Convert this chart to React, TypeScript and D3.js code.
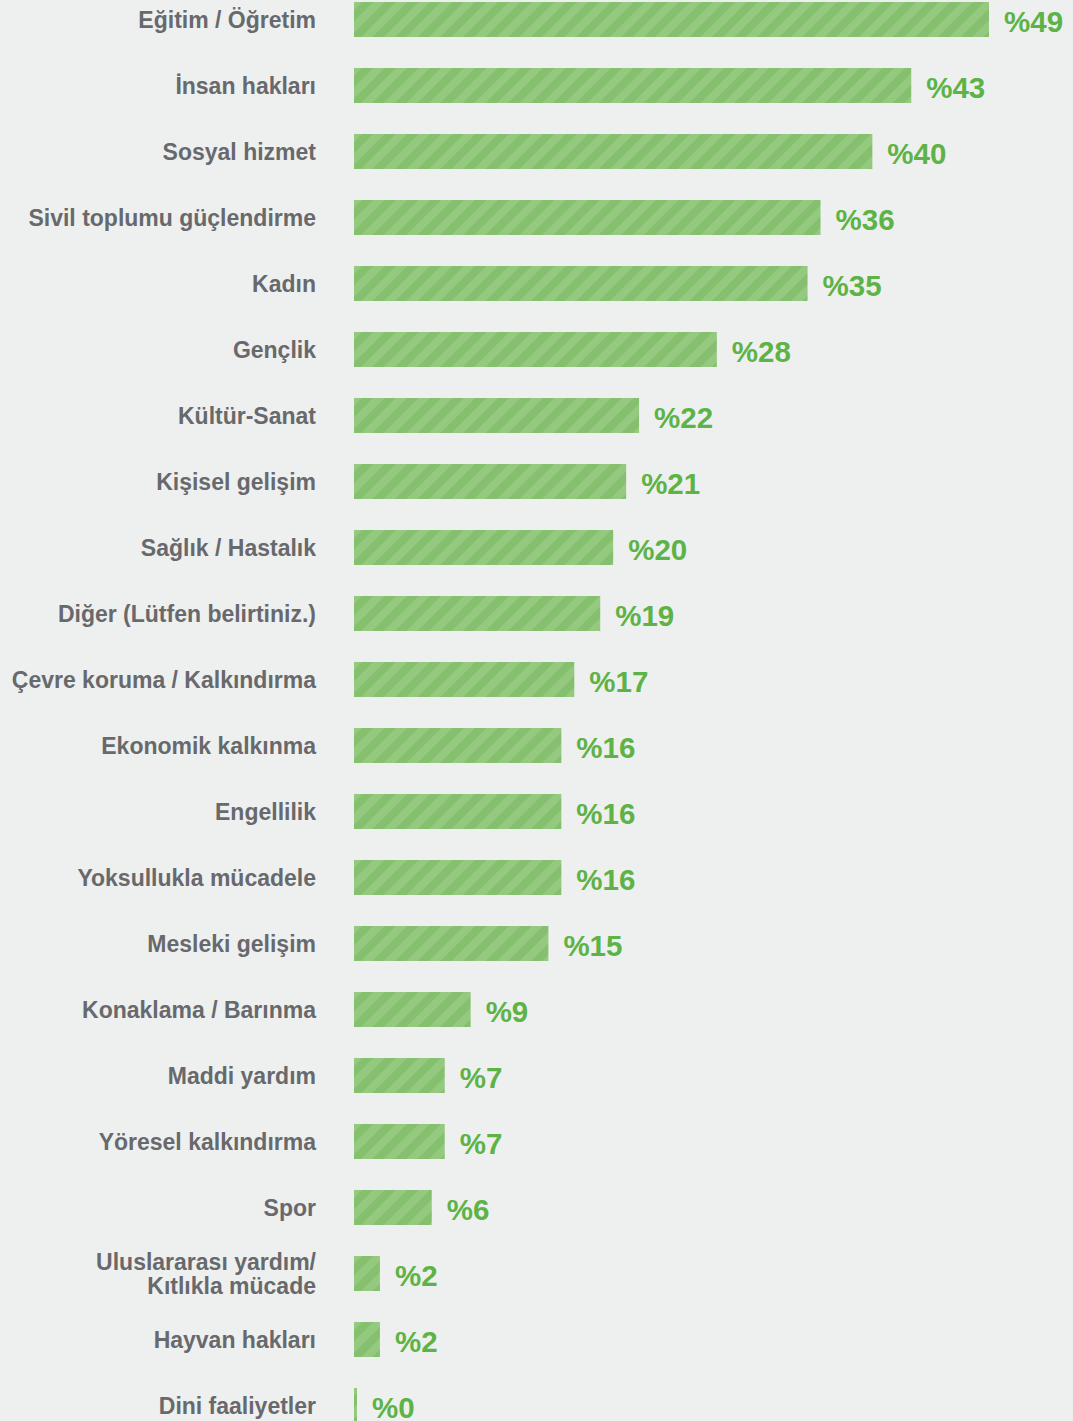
import React, { useRef, useEffect } from 'react';
import * as d3 from 'd3';

const categories = [
  'Eğitim / Öğretim',
  'İnsan hakları',
  'Sosyal hizmet',
  'Sivil toplumu güçlendirme',
  'Kadın',
  'Gençlik',
  'Kültür-Sanat',
  'Kişisel gelişim',
  'Sağlık / Hastalık',
  'Diğer (Lütfen belirtiniz.)',
  'Çevre koruma / Kalkındırma',
  'Ekonomik kalkınma',
  'Engellilik',
  'Yoksullukla mücadele',
  'Mesleki gelişim',
  'Konaklama / Barınma',
  'Maddi yardım',
  'Yöresel kalkındırma',
  'Spor',
  'Uluslararası yardım/\nKıtlıkla mücade',
  'Hayvan hakları',
  'Dini faaliyetler',
];

const values = [49, 43, 40, 36, 35, 28, 22, 21, 20, 19, 17, 16, 16, 16, 15, 9, 7, 7, 6, 2, 2, 0];

const W = 1073;
const H = 1421;

const App = () => {
  const ref = useRef<SVGSVGElement>(null);

  useEffect(() => {
    const svg = d3.select(ref.current);
    svg.selectAll('*').remove();

    svg.append('rect').attr('width', W).attr('height', H).attr('fill', '#eef0ef');

    const defs = svg.append('defs');
    const pat = defs
      .append('pattern')
      .attr('id', 'stripes')
      .attr('patternUnits', 'userSpaceOnUse')
      .attr('width', 16)
      .attr('height', 16)
      .attr('patternTransform', 'rotate(45)');
    pat.append('rect').attr('width', 16).attr('height', 16).attr('fill', '#94c97f');
    pat.append('rect').attr('width', 8).attr('height', 16).attr('fill', '#84c06d');

    const x = d3.scaleLinear().domain([0, 49]).range([354, 989]);
    const step = 66;
    const y = d3
      .scaleBand()
      .domain(categories)
      .range([2, 2 + step * categories.length - 31])
      .paddingInner(31 / step)
      .paddingOuter(0);

    const bh = y.bandwidth();
    const rows = svg
      .selectAll('.row')
      .data(categories)
      .enter()
      .append('g')
      .attr('class', 'row')
      .attr('transform', d => `translate(0, ${y(d)})`);

    rows
      .append('rect')
      .attr('x', x(0))
      .attr('y', 0)
      .attr('width', (d, i) => Math.max(3, x(values[i]) - x(0)))
      .attr('height', bh)
      .attr('fill', 'url(#stripes)');

    // category labels
    rows.each(function (d) {
      const lines = d.split('\n');
      const t = d3
        .select(this)
        .append('text')
        .attr('text-anchor', 'end')
        .style('font-family', '"Liberation Sans", Arial, sans-serif')
        .style('font-weight', 'bold')
        .style('font-size', '23px')
        .style('fill', '#67696c');
      const base = bh / 2 + 8 - (lines.length - 1) * 11.5;
      lines.forEach((l, k) => {
        t.append('tspan').attr('x', 316).attr('y', base + k * 23.5).text(l);
      });
    });

    // value labels
    rows
      .append('text')
      .attr('x', (d, i) => Math.max(x(values[i]), x(0) + 3) + 15)
      .attr('y', bh / 2 + 12)
      .style('font-family', '"Liberation Sans", Arial, sans-serif')
      .style('font-weight', 'bold')
      .style('font-size', '29.5px')
      .style('fill', '#5db346')
      .text((d, i) => `%${values[i]}`);
  }, []);

  return (
    <div style={{ position: 'absolute', left: 0, top: 0 }}>
      <svg ref={ref} width={W} height={H} style={{ display: 'block' }} />
    </div>
  );
};

export default App;
